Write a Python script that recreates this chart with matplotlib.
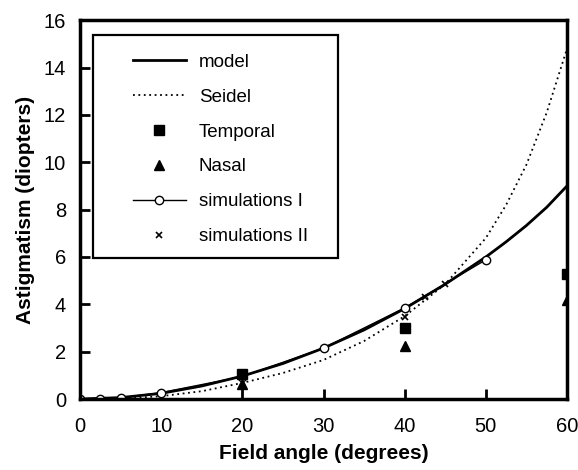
import numpy as np
import matplotlib.pyplot as plt
from matplotlib.patches import Rectangle

plt.rcParams['font.family'] = ['Liberation Sans', 'DejaVu Sans']

# model and Seidel curves (astigmatism in diopters vs field angle in degrees)
model_angle = [0, 5, 10, 15, 20, 25, 30, 35, 40, 45, 50, 52.5, 55, 57.5, 60]
model_ast = [0, 0.06, 0.24, 0.55, 0.97, 1.5, 2.15, 2.92, 3.82, 4.85, 6.0, 6.64, 7.33, 8.1, 9.0]

seidel_angle = [0, 5, 10, 15, 20, 25, 30, 35, 40, 45, 50, 52.5, 55, 57.5, 60]
seidel_ast = [0, 0.01, 0.12, 0.33, 0.68, 1.1, 1.65, 2.45, 3.5, 4.85, 6.8, 8.2, 9.9, 12.1, 14.8]

# measurements
meas_angle = [20, 40, 60]
temporal = [1.05, 3.0, 5.3]
nasal = [0.65, 2.25, 4.2]

# simulations
sim1_angle = [0, 2.5, 5, 10, 20, 30, 40, 50]
sim1_ast = [0, 0.02, 0.05, 0.27, 0.95, 2.15, 3.85, 5.88]
sim2_angle = [40, 42.5, 45]
sim2_ast = [3.45, 4.3, 4.85]

fig = plt.figure(figsize=(5.78, 4.7), dpi=100)
ax = fig.add_axes([0.1384, 0.151, 0.8426, 0.806])

ax.plot(model_angle, model_ast, color='black', lw=2.0, label='model')
ax.plot(seidel_angle, seidel_ast, color='black', lw=1.3, ls=(0, (1, 2)), label='Seidel')
ax.plot(sim1_angle, sim1_ast, color='black', lw=1.0, marker='o', ms=6,
        mfc='white', mec='black', mew=1.0, label='simulations I')
ax.plot(sim2_angle, sim2_ast, ls='none', marker='x', ms=5, mew=1.2, color='black',
        label='simulations II')
ax.plot(meas_angle, temporal, ls='none', marker='s', ms=6.5, color='black', label='Temporal')
ax.plot(meas_angle, nasal, ls='none', marker='^', ms=6.5, color='black', label='Nasal')

ax.set_xlim(0, 60)
ax.set_ylim(0, 16)
ax.set_xticks(np.arange(0, 61, 10))
ax.set_yticks(np.arange(0, 17, 2))
ax.tick_params(direction='in', length=7, width=2, labelsize=14.5)
ax.tick_params(axis='x', pad=13)
ax.tick_params(axis='y', pad=10)
for s in ax.spines.values():
    s.set_linewidth(2.5)

ax.set_xlabel('Field angle (degrees)', fontsize=15, fontweight='bold', labelpad=6)
ax.set_ylabel('Astigmatism (diopters)', fontsize=15, fontweight='bold', labelpad=6)

# legend in the original order, with its own square frame
handles, labels = ax.get_legend_handles_labels()
order = ['model', 'Seidel', 'Temporal', 'Nasal', 'simulations I', 'simulations II']
hmap = dict(zip(labels, handles))
leg = ax.legend([hmap[k] for k in order], order, loc='upper left',
                bbox_to_anchor=(0.109, 0.912), fontsize=13.5, frameon=False,
                handlelength=2.8, handletextpad=0.7, labelspacing=0.95,
                borderpad=0, borderaxespad=0)
ax.add_patch(Rectangle((0.027, 0.372), 0.503, 0.588, transform=ax.transAxes,
                       fill=False, ec='black', lw=1.6, zorder=5))

fig.savefig('out.png', dpi=100)
